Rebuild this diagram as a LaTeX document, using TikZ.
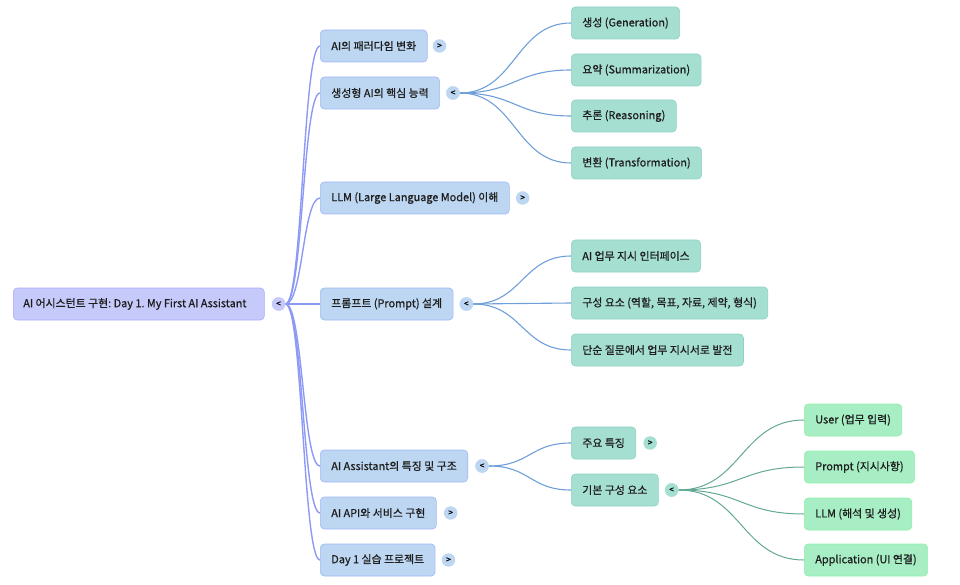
\documentclass[tikz,border=0pt]{standalone}
\usepackage{fontspec}
\setmainfont{Noto Sans CJK KR}[BoldFont=Noto Sans CJK KR, BoldFeatures={FakeBold=0.7}]
\frenchspacing
\usetikzlibrary{calc}
\definecolor{rootfill}{HTML}{C6CAFA}
\definecolor{rootline}{HTML}{8D9AF5}
\definecolor{lonefill}{HTML}{BDD7F2}
\definecolor{loneline}{HTML}{6E9FD9}
\definecolor{ltwofill}{HTML}{A5DFD2}
\definecolor{ltwoline}{HTML}{62A894}
\definecolor{lthreefill}{HTML}{A7EEC5}
\definecolor{txt}{HTML}{1E1E1E}
\tikzset{
  mbox/.style={rounded corners=4pt, minimum height=32pt, inner xsep=11pt, anchor=west,
    text=txt, font=\fontsize{10.9}{13}\selectfont\bfseries, line width=0.6pt},
  rootbox/.style={mbox, fill=rootfill, draw=rootfill!85!blue},
  onebox/.style={mbox, fill=lonefill, draw=lonefill!85!blue},
  twobox/.style={mbox, fill=ltwofill, draw=ltwofill!85!teal},
  threebox/.style={mbox, fill=lthreefill, draw=lthreefill!85!green},
  tog/.style={circle, minimum size=13.5pt, inner sep=0pt, text=black,
    font=\fontsize{8.5}{8.5}\selectfont\bfseries},
  rtog/.style={tog, fill=rootfill},
  otog/.style={tog, fill=lonefill},
  ttog/.style={tog, fill=ltwofill},
  rlink/.style={draw=rootline, line width=1.4pt},
  olink/.style={draw=loneline, line width=1.1pt},
  tlink/.style={draw=ltwoline, line width=1.0pt},
}
\newcommand\mlink[3]{\draw[#1] let \p1=(#2.east), \p2=(#3.west) in
  (\p1) .. controls ({(\x1+\x2)/2},\y1) and ({(\x1+\x2)/2},\y2) .. (\p2);}
\begin{document}
\begin{tikzpicture}[x=1pt,y=-1pt]
\useasboundingbox (0,0) rectangle (960,585);
% root
\node[rootbox, inner xsep=10pt] (root) at (13,304) {\makebox[231pt][l]{AI 어시스턴트 구현: Day 1. My First AI Assistant}};
\node[rtog] (troot) at ([xshift=14pt]root.east) {<};
% level 1
\node[onebox] (a1) at (320,46) {AI의 패러다임 변화};
\node[otog] (ta1) at ([xshift=12pt]a1.east) {>};
\node[onebox] (a2) at (320,93) {생성형 AI의 핵심 능력};
\node[otog] (ta2) at ([xshift=13pt]a2.east) {<};
\node[onebox] (a3) at (320,198) {LLM (Large Language Model) 이해};
\node[otog] (ta3) at ([xshift=13pt]a3.east) {>};
\node[onebox] (a4) at (320,304) {프롬프트 (Prompt) 설계};
\node[otog] (ta4) at ([xshift=13pt]a4.east) {<};
\node[onebox] (a5) at (320,466) {AI Assistant의 특징 및 구조};
\node[otog] (ta5) at ([xshift=14pt]a5.east) {<};
\node[onebox] (a6) at (320,513) {AI API와 서비스 구현};
\node[otog] (ta6) at ([xshift=14pt]a6.east) {>};
\node[onebox] (a7) at (320,560) {Day 1 실습 프로젝트};
\node[otog] (ta7) at ([xshift=13pt]a7.east) {>};
% level 2
\node[twobox] (b1) at (571,23) {생성 (Generation)};
\node[twobox] (b2) at (571,70) {요약 (Summarization)};
\node[twobox] (b3) at (571,116) {추론 (Reasoning)};
\node[twobox] (b4) at (571,163) {변환 (Transformation)};
\node[twobox] (c1) at (571,256) {AI 업무 지시 인터페이스};
\node[twobox] (c2) at (571,303) {구성 요소 (역할, 목표, 자료, 제약, 형식)};
\node[twobox] (c3) at (571,350) {단순 질문에서 업무 지시서로 발전};
\node[twobox] (d1) at (571,443) {주요 특징};
\node[ttog] (td1) at ([xshift=14pt]d1.east) {>};
\node[twobox] (d2) at (571,490) {기본 구성 요소};
\node[ttog] (td2) at ([xshift=13pt]d2.east) {<};
% level 3
\node[threebox] (e1) at (804,420) {User (업무 입력)};
\node[threebox] (e2) at (804,467) {Prompt (지시사항)};
\node[threebox] (e3) at (804,514) {LLM (해석 및 생성)};
\node[threebox] (e4) at (804,560) {Application (UI 연결)};
% links
\foreach \nm in {a1,a2,a3,a4,a5,a6,a7}{\mlink{rlink}{troot}{\nm}}
\foreach \nm in {b1,b2,b3,b4}{\mlink{olink}{ta2}{\nm}}
\foreach \nm in {c1,c2,c3}{\mlink{olink}{ta4}{\nm}}
\foreach \nm in {d1,d2}{\mlink{olink}{ta5}{\nm}}
\foreach \nm in {e1,e2,e3,e4}{\mlink{tlink}{td2}{\nm}}
% redraw toggles on top
\node[rtog] at (troot) {<};
\node[otog] at (ta2) {<};
\node[otog] at (ta4) {<};
\node[otog] at (ta5) {<};
\node[ttog] at (td2) {<};
\end{tikzpicture}
\end{document}
